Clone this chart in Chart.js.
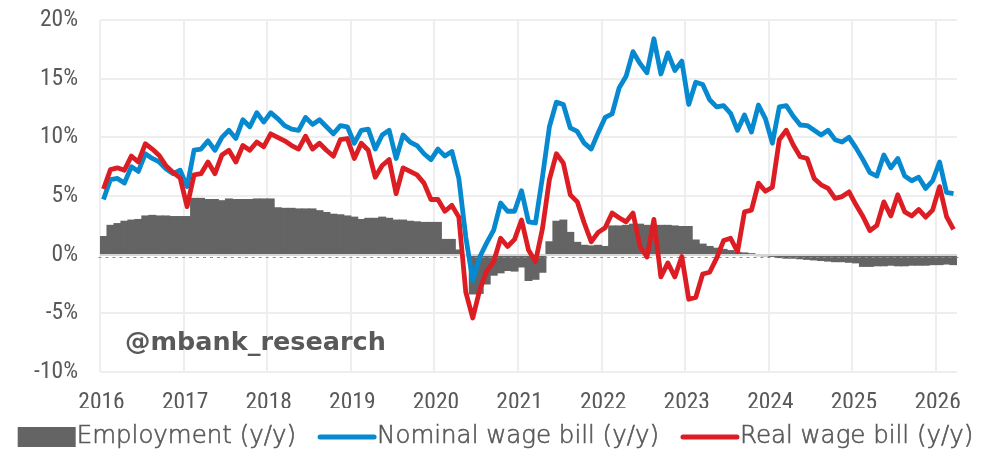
<!DOCTYPE html>
<html>
<head>
<meta charset="utf-8">
<script src="https://cdn.jsdelivr.net/npm/chart.js@4.4.1/dist/chart.umd.min.js"></script>
<style>
  html, body { margin: 0; padding: 0; background: #ffffff; }
  #wrap { width: 1004px; height: 450px; position: relative; }
</style>
</head>
<body>
<div id="wrap"><canvas id="chart"></canvas></div>
<script>
// Monthly series, Jan 2016 - Mar 2026, % y/y
const yearLabels = ['2016', '2017', '2018', '2019', '2020', '2021', '2022', '2023', '2024', '2025', '2026'];

const employment = [
  1.55, 2.5, 2.65, 2.85, 2.95, 3.0, 3.3, 3.35, 3.3, 3.3, 3.25, 3.25,
  3.25, 4.8, 4.8, 4.7, 4.7, 4.6, 4.75, 4.7, 4.7, 4.7, 4.75, 4.75,
  4.75, 4.0, 3.95, 3.95, 3.9, 3.9, 3.9, 3.75, 3.6, 3.45, 3.4, 3.3,
  3.2, 3.0, 3.1, 3.1, 3.2, 3.1, 2.95, 2.95, 2.85, 2.8, 2.75, 2.75,
  2.75, 1.3, 1.3, 0.4, -0.05, -3.35, -3.3, -2.5, -1.75, -1.55, -1.35, -1.4,
  -1.05, -2.2, -2.1, -1.5, 1.1, 2.85, 2.95, 1.9, 1.05, 0.8, 0.75, 0.8,
  0.7, 2.45, 2.45, 2.5, 2.6, 2.6, 2.5, 2.35, 2.5, 2.5, 2.45, 2.4,
  2.4, 1.25, 0.9, 0.7, 0.55, 0.45, 0.35, 0.2, 0.15, 0.05, -0.05, -0.1,
  -0.15, -0.25, -0.3, -0.3, -0.35, -0.4, -0.45, -0.5, -0.55, -0.6, -0.6, -0.65,
  -0.7, -1.0, -1.0, -0.95, -0.95, -0.9, -0.95, -0.95, -0.9, -0.9, -0.9, -0.85,
  -0.85, -0.8, -0.85
];

const nominalWageBill = [
  4.7, 6.4, 6.5, 6.1, 7.5, 7.1, 8.6, 8.2, 7.9, 7.3, 6.9, 7.2,
  5.8, 8.9, 9.0, 9.7, 8.9, 10.0, 10.6, 9.9, 11.5, 10.9, 12.1, 11.3,
  12.1, 11.6, 11.0, 10.7, 10.6, 11.7, 11.1, 11.5, 10.9, 10.3, 11.0, 10.9,
  9.5, 10.6, 10.7, 9.0, 10.2, 10.6, 8.2, 10.2, 9.6, 9.3, 8.6, 8.1,
  9.0, 8.4, 8.8, 6.5, 1.5, -2.2, -0.2, 1.0, 2.1, 4.4, 3.7, 3.7,
  5.45, 2.8, 2.7, 6.6, 10.9, 13.0, 12.8, 10.8, 10.5, 9.5, 9.0, 10.4,
  11.7, 12.0, 14.2, 15.2, 17.3, 16.3, 15.5, 18.4, 15.4, 17.2, 15.7, 16.5,
  12.8, 14.7, 14.5, 13.2, 12.6, 12.7, 12.05, 10.6, 11.9, 10.45, 12.75, 11.6,
  9.5, 12.6, 12.7, 11.8, 11.05, 11.0, 10.6, 10.2, 10.6, 9.8, 9.6, 10.0,
  9.1, 8.1, 7.0, 6.7, 8.5, 7.4, 8.2, 6.7, 6.3, 6.6, 5.65, 6.3,
  7.9, 5.3, 5.2
];

const realWageBill = [
  5.6, 7.25, 7.4, 7.2, 8.4, 7.9, 9.45, 9.0, 8.45, 7.55, 7.0, 6.55,
  4.1, 6.8, 6.9, 7.9, 6.9, 8.5, 8.9, 7.9, 9.3, 8.9, 9.6, 9.2,
  10.3, 10.0, 9.7, 9.3, 9.0, 10.1, 9.0, 9.5, 8.9, 8.4, 9.8, 9.9,
  8.2, 9.5, 8.9, 6.6, 7.6, 8.1, 5.2, 7.4, 7.1, 6.8, 6.1, 4.7,
  4.7, 3.7, 4.2, 3.2, -3.2, -5.4, -3.0, -1.4, -0.6, 1.4, 0.7, 1.3,
  2.95, 0.4, -0.6, 2.2, 6.4, 8.6, 7.8, 5.1, 4.5, 2.7, 1.1, 1.9,
  2.3, 3.55, 3.15, 2.8, 3.55, 0.7, -0.2, 3.0, -1.9, -0.7, -1.9, -0.15,
  -3.8, -3.65, -1.65, -1.5, -0.3, 1.2, 1.4, 0.25, 3.65, 3.8, 6.1, 5.4,
  5.75, 9.8, 10.6, 9.35, 8.35, 8.2, 6.5, 5.95, 5.65, 4.8, 4.95, 5.35,
  4.25, 3.25, 2.05, 2.5, 4.5, 3.3, 5.1, 3.65, 3.3, 3.85, 3.2, 3.8,
  5.8, 3.25, 2.15
];

// Category labels: one per month
const monthLabels = employment.map((_, i) => yearLabels[Math.floor(i / 12)] + '-' + String(i % 12 + 1).padStart(2, '0'));

const TEXT = '#595959';
const GRID = '#eeeeee';
const TICK_FONT = '"Roboto Condensed", "Liberation Sans", Arial, sans-serif';
const LEGEND_FONT = '200 24.5px "DejaVu Sans", sans-serif';
const TAG_FONT = 'bold 25.5px "DejaVu Sans", sans-serif';

// Horizontal axis line through zero, with small month ticks underneath
const zeroAxis = {
  id: 'zeroAxis',
  afterDatasetDraw(chart, args) {
    if (args.index !== 0) return;
    const { ctx, chartArea, scales } = chart;
    const x = scales.x, y = scales.y;
    const y0 = Math.round(y.getPixelForValue(0));
    const step = x.getPixelForValue(1) - x.getPixelForValue(0);
    ctx.save();
    ctx.strokeStyle = '#d6d6d6';
    ctx.lineWidth = 2;
    ctx.beginPath();
    ctx.moveTo(chartArea.left, y0);
    ctx.lineTo(chartArea.right, y0);
    ctx.stroke();
    ctx.strokeStyle = '#8c8c8c';
    ctx.lineWidth = 1.2;
    ctx.beginPath();
    for (let i = 0; i <= chart.data.labels.length; i++) {
      const px = x.getPixelForValue(i) - step / 2;
      ctx.moveTo(px - 1.5, y0 + 2.5);
      ctx.lineTo(px + 1.5, y0 + 2.5);
    }
    ctx.stroke();
    ctx.restore();
  }
};

// Account tag in the lower left of the plot
const tag = {
  id: 'tag',
  beforeDatasetsDraw(chart) {
    const { ctx, chartArea, scales } = chart;
    ctx.save();
    ctx.fillStyle = TEXT;
    ctx.font = TAG_FONT;
    ctx.textBaseline = 'middle';
    ctx.fillText('@mbank_research', chartArea.left + 25, scales.y.getPixelForValue(-7.6));
    ctx.restore();
  }
};

// Legend row under the axis: swatch + series name, in dataset order
const bottomLegend = {
  id: 'bottomLegend',
  afterDraw(chart) {
    const { ctx } = chart;
    const swatch = 56, gap = 3, between = 22;
    const items = chart.data.datasets.map((ds) => ({
      text: ds.label,
      bar: ds.type === 'bar',
      color: ds.type === 'bar' ? ds.backgroundColor : ds.borderColor
    }));
    ctx.save();
    ctx.font = LEGEND_FONT;
    ctx.textBaseline = 'middle';
    const widths = items.map((it) => swatch + gap + ctx.measureText(it.text).width);
    const total = widths.reduce((a, b) => a + b, 0) + between * (items.length - 1);
    let x = chart.width / 2 - 6.5 - total / 2;
    const yc = chart.height - 13;
    items.forEach((it, k) => {
      if (it.bar) {
        ctx.fillStyle = it.color;
        ctx.fillRect(x, yc - 10, swatch + 2, 20);
      } else {
        ctx.strokeStyle = it.color;
        ctx.lineWidth = 5;
        ctx.lineCap = 'round';
        ctx.beginPath();
        ctx.moveTo(x + 2, yc);
        ctx.lineTo(x + swatch, yc);
        ctx.stroke();
      }
      ctx.fillStyle = TEXT;
      ctx.strokeStyle = TEXT;
      ctx.lineWidth = 0.6;
      ctx.fillText(it.text, x + swatch + gap, yc);
      ctx.strokeText(it.text, x + swatch + gap, yc);
      x += widths[k] + between;
    });
    ctx.restore();
  }
};

new Chart(document.getElementById('chart'), {
  data: {
    labels: monthLabels,
    datasets: [
      {
        type: 'bar',
        label: 'Employment (y/y)',
        data: employment,
        backgroundColor: '#646464',
        borderWidth: 0,
        barPercentage: 1.0,
        categoryPercentage: 1.0,
        inflateAmount: 0.5,
        order: 2
      },
      {
        type: 'line',
        label: 'Nominal wage bill (y/y)',
        data: nominalWageBill,
        borderColor: '#0789cf',
        backgroundColor: '#0789cf',
        borderWidth: 4.8,
        pointRadius: 0,
        tension: 0,
        borderJoinStyle: 'round',
        order: 1
      },
      {
        type: 'line',
        label: 'Real wage bill (y/y)',
        data: realWageBill,
        borderColor: '#dc1e24',
        backgroundColor: '#dc1e24',
        borderWidth: 4.8,
        pointRadius: 0,
        tension: 0,
        borderJoinStyle: 'round',
        order: 0
      }
    ]
  },
  options: {
    responsive: true,
    maintainAspectRatio: false,
    animation: false,
    layout: { padding: { left: 0, right: 47, top: 20, bottom: 42 } },
    plugins: {
      tooltip: { enabled: false },
      legend: { display: false }
    },
    scales: {
      x: {
        type: 'category',
        offset: true,
        border: { display: false },
        grid: {
          offset: true,
          drawTicks: false,
          lineWidth: 2,
          color: (c) => (c.index % 12 === 0 && c.index < monthLabels.length) ? GRID : 'rgba(0,0,0,0)'
        },
        ticks: {
          autoSkip: false,
          maxRotation: 0,
          padding: 17,
          labelOffset: -2,
          color: TEXT,
          font: { family: TICK_FONT, size: 23.5 },
          callback: (v, i) => (i % 12 === 0 ? yearLabels[i / 12] : '')
        },
        afterFit: (s) => { s.height = 36; s.paddingLeft = 0; s.paddingRight = 0; }
      },
      y: {
        min: -10,
        max: 20,
        border: { display: false },
        grid: { drawTicks: false, lineWidth: 2, color: GRID },
        ticks: {
          stepSize: 5,
          padding: 22,
          color: TEXT,
          font: { family: TICK_FONT, size: 23.5 },
          callback: (v) => v + '%'
        },
        afterFit: (s) => { s.width = 100; s.paddingTop = 0; s.paddingBottom = 0; }
      }
    }
  },
  plugins: [zeroAxis, tag, bottomLegend]
});
</script>
</body>
</html>
